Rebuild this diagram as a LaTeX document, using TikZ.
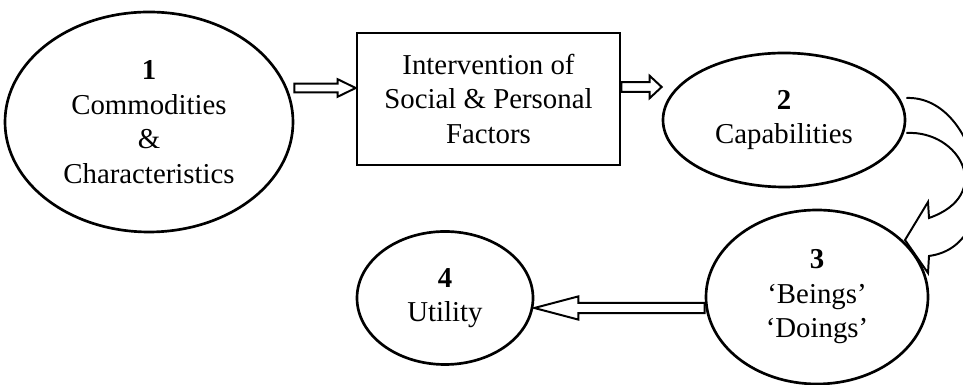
\documentclass[tikz,border=0pt]{standalone}
\usepackage{fontspec}
\setmainfont{Liberation Serif}
\usetikzlibrary{calc,shapes.geometric}
\def\hollowarrow(#1)(#2)(#3:#4:#5){\draw[line width=1.4pt, line join=miter] let \p1=(#1), \p2=(#2), \n1={sign(\x2-\x1)} in (\x1,\y1+#3) -- ({\x2-(\n1)*#5},\y1+#3) -- ({\x2-(\n1)*#5},\y1+#4) -- (\x2,\y1) -- ({\x2-(\n1)*#5},\y1-#4) -- ({\x2-(\n1)*#5},\y1-#3) -- (\x1,\y1-#3) -- cycle;}
\tikzset{
	oval/.style={ellipse, draw, line width=1.9pt, inner sep=0pt, align=center, font=\fontsize{20.5}{24.5}\selectfont},
	factorbox/.style={rectangle, draw, line width=1.9pt, inner sep=0pt, align=center, font=\fontsize{20.5}{24.5}\selectfont}
}
\begin{document}
\begin{tikzpicture}
		%%%%% START %%%%%
		\path[fill=white] (0, 0) rectangle (24.075, 9.625);
		\useasboundingbox (0, 0) rectangle (24.075, 9.625);
		
		\node[oval, minimum width=7.2cm, minimum height=5.5cm] (comm) at (3.725, 6.575) {\textbf{1}\\Commodities\\\&\\Characteristics};
		\node[factorbox, minimum width=6.575cm, minimum height=3.3cm] (factors) at (12.2125, 7.15) {Intervention of\\Social \& Personal\\Factors};
		\node[oval, minimum width=6.05cm, minimum height=3.35cm] (cap) at (19.6, 6.625) {\textbf{2}\\Capabilities};
		\node[oval, minimum width=5.55cm, minimum height=4.35cm] (being) at (20.425, 2.2) {\textbf{3}\\`Beings'\\`Doings'};
		\node[oval, minimum width=4.4cm, minimum height=3.325cm] (util) at (11.125, 2.175) {\textbf{4}\\Utility};
		
		\coordinate (a1) at ($(factors.west)+(0, 0.275)$);
		\coordinate (a2) at ($(factors.east)+(0, 0.3)$);
		\coordinate (a4) at ($(util.east)+(0, -0.25)$);
		
		\hollowarrow(comm.east |- a1)(a1)(0.11cm:0.22cm:0.45cm)
		\hollowarrow(a2)(cap.west |- a2)(0.12cm:0.28cm:0.3cm)
		\hollowarrow(being.west |- a4)(a4)(0.13cm:0.29cm:1.1cm)
		
		% curved arrow 2 -> 3
		\draw[line width=1.4pt, line join=miter] ($(cap.east)+(0, 0.55)$) .. controls (24.5, 7.25) and (25.25, 3.5) .. (23.225, 3.225) -- (23.2, 2.8) -- (22.625, 3.625) -- (23.2, 4.575) -- (23.225, 4.175) .. controls (24.875, 4.75) and (24.0, 6.375) .. ($(cap.east)+(0, -0.325)$);
		%%%%% END %%%%%
	\end{tikzpicture}
\end{document}
